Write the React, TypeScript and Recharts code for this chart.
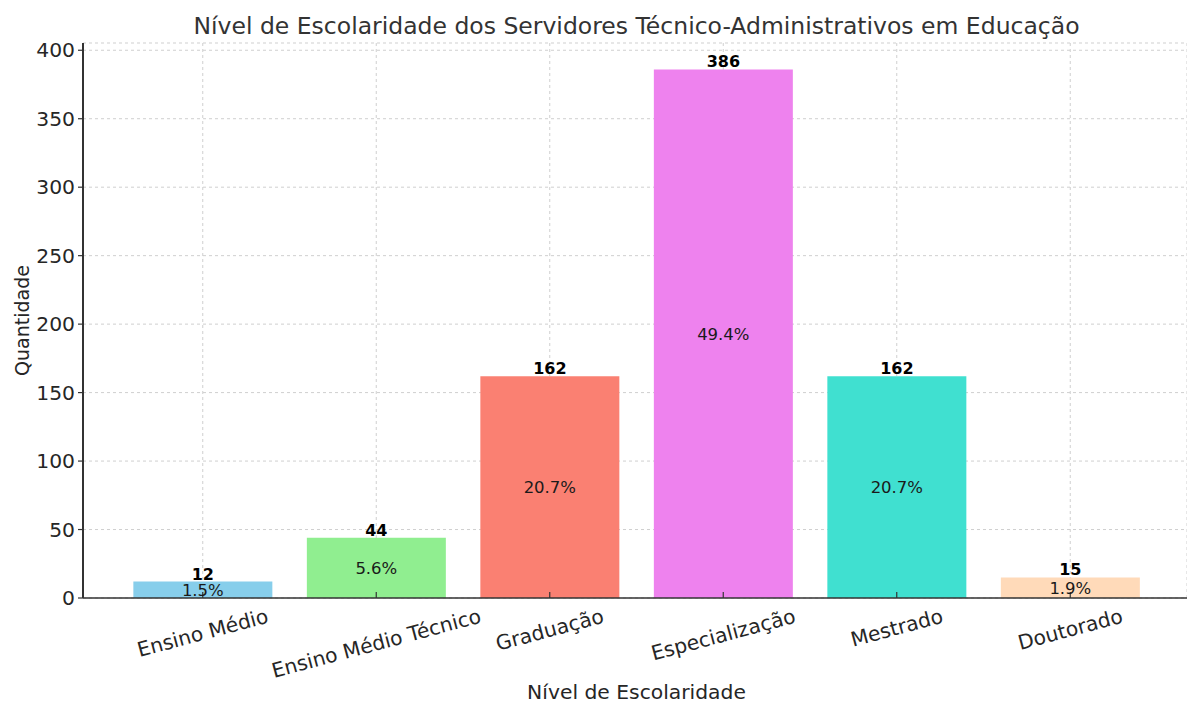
import React from 'react';
import { BarChart, Bar, XAxis, YAxis, CartesianGrid, LabelList, Cell, Label } from 'recharts';

const categories = ['Ensino Médio', 'Ensino Médio Técnico', 'Graduação', 'Especialização', 'Mestrado', 'Doutorado'];
const values = [12, 44, 162, 386, 162, 15];
const colors = ['#87CEEB', '#90EE90', '#FA8072', '#EE82EE', '#40E0D0', '#FFDAB9'];
const yTicks = [0, 50, 100, 150, 200, 250, 300, 350, 400];
const title = 'Nível de Escolaridade dos Servidores Técnico-Administrativos em Educação';
const xLabel = 'Nível de Escolaridade';
const yLabel = 'Quantidade';

const total = values.reduce((a, b) => a + b, 0);
const data = categories.map((c, i) => ({
  name: c,
  value: values[i],
  pct: ((values[i] / total) * 100).toFixed(1) + '%',
}));

const FONT = '"DejaVu Sans", Verdana, sans-serif';
const TICK_FS = 20.3;
const AXIS_Y = 598;

let ctx: CanvasRenderingContext2D | null = null;
const measure = (s: string, fs: number) => {
  if (!ctx) {
    const c = document.createElement('canvas');
    ctx = c.getContext('2d');
  }
  if (!ctx) return s.length * fs * 0.6;
  ctx.font = `${fs}px "DejaVu Sans"`;
  return ctx.measureText(s).width;
};

const XTick = (props: any) => {
  const { x, payload } = props;
  const a = (15 * Math.PI) / 180;
  const w = measure(String(payload.value), TICK_FS);
  const h = TICK_FS * 1.17;
  const bboxH = w * Math.sin(a) + h * Math.cos(a);
  const cy = AXIS_Y + 6 + bboxH / 2;
  return (
    <text
      x={x}
      y={cy}
      transform={`rotate(-15, ${x}, ${cy})`}
      textAnchor="middle"
      dominantBaseline="central"
      fontSize={TICK_FS}
      fill="#262626"
      fontFamily={FONT}
    >
      {payload.value}
    </text>
  );
};

export default function App() {
  return (
    <div style={{ position: 'absolute', left: 0, top: 0, width: 1187, height: 704, background: '#fff', fontFamily: FONT }}>
      <div
        style={{
          position: 'absolute',
          left: 0,
          width: 1273,
          top: 11,
          textAlign: 'center',
          fontSize: 23.5,
          color: '#333',
          lineHeight: '30px',
          whiteSpace: 'nowrap',
        }}
      >
        {title}
      </div>
      <div
        style={{
          position: 'absolute',
          left: 0,
          width: 1273,
          top: 678,
          textAlign: 'center',
          fontSize: 20.3,
          color: '#262626',
          lineHeight: '28px',
          whiteSpace: 'nowrap',
        }}
      >
        {xLabel}
      </div>
      <BarChart
        width={1187}
        height={704}
        data={data}
        margin={{ top: 43, right: 0, bottom: 76, left: 0 }}
        barCategoryGap="10%"
        style={{ fontFamily: FONT }}
      >
        <CartesianGrid stroke="#cfcfcf" strokeDasharray="3 3" />
        <XAxis
          dataKey="name"
          type="category"
          height={30}
          padding={{ left: 33, right: 30 }}
          tick={<XTick />}
          tickSize={-6}
          interval={0}
          axisLine={{ stroke: '#333', strokeWidth: 1.5 }}
          tickLine={{ stroke: '#333', strokeWidth: 1.2 }}
        />
        <YAxis
          type="number"
          domain={[0, 405.3]}
          ticks={yTicks}
          width={83}
          tickSize={5}
          tickMargin={3}
          tick={{ fontSize: TICK_FS, fill: '#262626', fontFamily: FONT }}
          axisLine={{ stroke: '#333', strokeWidth: 2 }}
          tickLine={{ stroke: '#333', strokeWidth: 1.2 }}
        >
          <Label
            content={(p: any) => {
              const vb = p.viewBox || {};
              const cy = (vb.y || 0) + (vb.height || 0) / 2;
              return (
                <text
                  x={22}
                  y={cy}
                  transform={`rotate(-90, 22, ${cy})`}
                  textAnchor="middle"
                  dominantBaseline="central"
                  fontSize={19}
                  fill="#262626"
                  fontFamily={FONT}
                >
                  {yLabel}
                </text>
              );
            }}
          />
        </YAxis>
        <Bar dataKey="value" isAnimationActive={false}>
          {data.map((d, i) => (
            <Cell key={d.name} fill={colors[i]} />
          ))}
          <LabelList dataKey="value" position="top" offset={2} fontSize={16} fontWeight="bold" fill="#000" fontFamily={FONT} />
          <LabelList dataKey="pct" position="center" fontSize={16.5} fill="#1a1a1a" fontFamily={FONT} />
        </Bar>
      </BarChart>
    </div>
  );
}
